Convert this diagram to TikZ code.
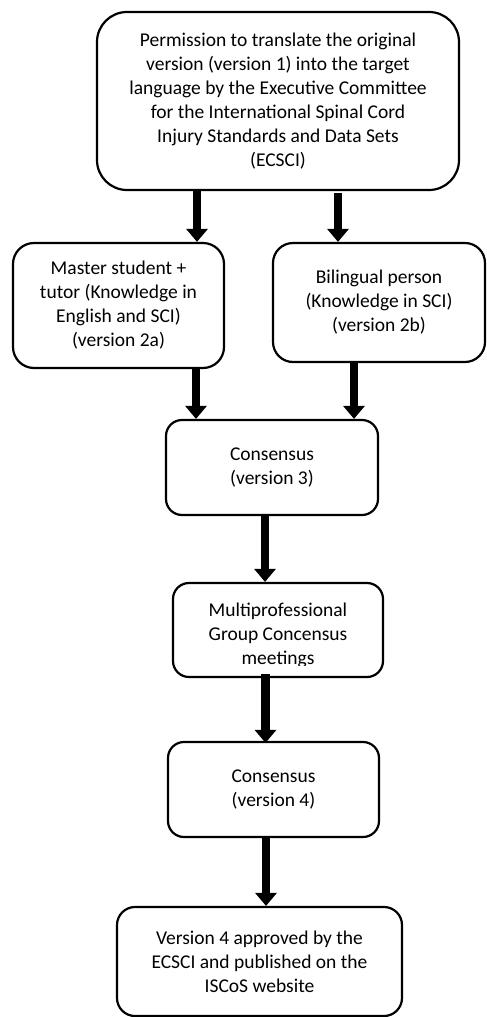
\documentclass[tikz,border=0pt]{standalone}
\usepackage{fontspec}
\setmainfont{Carlito}
\usetikzlibrary{arrows.meta}
\begin{document}
\begin{tikzpicture}[x=1pt,y=-1pt,
  box/.style={draw=black,line width=2.2pt,fill=white,inner sep=0pt,align=center,
    font=\fontsize{19.5}{24}\selectfont},
  arr/.style={line width=8.5pt,-{Triangle[width=21pt,length=13pt]}}]
\useasboundingbox (0,0) rectangle (487,1017);
\node[box,minimum width=362pt,minimum height=178pt,rounded corners=30pt] (b1) at (278,101)
  {Permission to translate the original\\version (version 1) into the target\\language by the Executive Committee\\for the International Spinal Cord\\Injury Standards and Data Sets\\(ECSCI)};
\node[box,minimum width=211pt,minimum height=125pt,rounded corners=21pt] (b2a) at (118.5,305.5)
  {Master student +\\tutor (Knowledge in\\English and SCI)\\(version 2a)};
\node[box,minimum width=212pt,minimum height=119pt,rounded corners=20pt] (b2b) at (379,302.5)
  {Bilingual person\\(Knowledge in SCI)\\(version 2b)};
\node[box,minimum width=212pt,minimum height=95pt,rounded corners=16pt] (b3) at (272,467.5)
  {Consensus\\(version 3)};
\node[box,minimum width=210pt,minimum height=94pt,rounded corners=16pt] (b4) at (278,630) {};
\begin{scope}
  \clip (173,583) rectangle (383,665);
  \node[box,draw=none,fill=none] (t4) at (278,635)
    {Multiprofessional\\Group Concensus\\meetings};
\end{scope}
\node[box,minimum width=211pt,minimum height=95pt,rounded corners=16pt] (b5) at (273.5,789.5)
  {Consensus\\(version 4)};
\node[box,minimum width=285pt,minimum height=109pt,rounded corners=18pt] (b6) at (259.5,961.5)
  {Version 4 approved by the\\ECSCI and published on the\\ISCoS website};
\draw[arr] ([xshift=-81pt]b1.south) -- ([xshift=78.5pt]b2a.north);
\draw[arr] ([xshift=60pt,yshift=-2pt]b1.south) -- ([xshift=-41pt]b2b.north);
\draw[arr] ([xshift=77.5pt]b2a.south) -- ([xshift=-76pt]b3.north);
\draw[arr] ([xshift=-25pt]b2b.south) -- ([xshift=82pt]b3.north);
\draw[arr] ([xshift=-7pt]b3.south) -- ([xshift=-13pt]b4.north);
\draw[arr] ([xshift=-12.5pt,yshift=4pt]b4.south) -- ([xshift=-8pt,yshift=-2pt]b5.north);
\draw[arr] ([xshift=-7.5pt]b5.south) -- ([xshift=6.5pt]b6.north);
\end{tikzpicture}
\end{document}
